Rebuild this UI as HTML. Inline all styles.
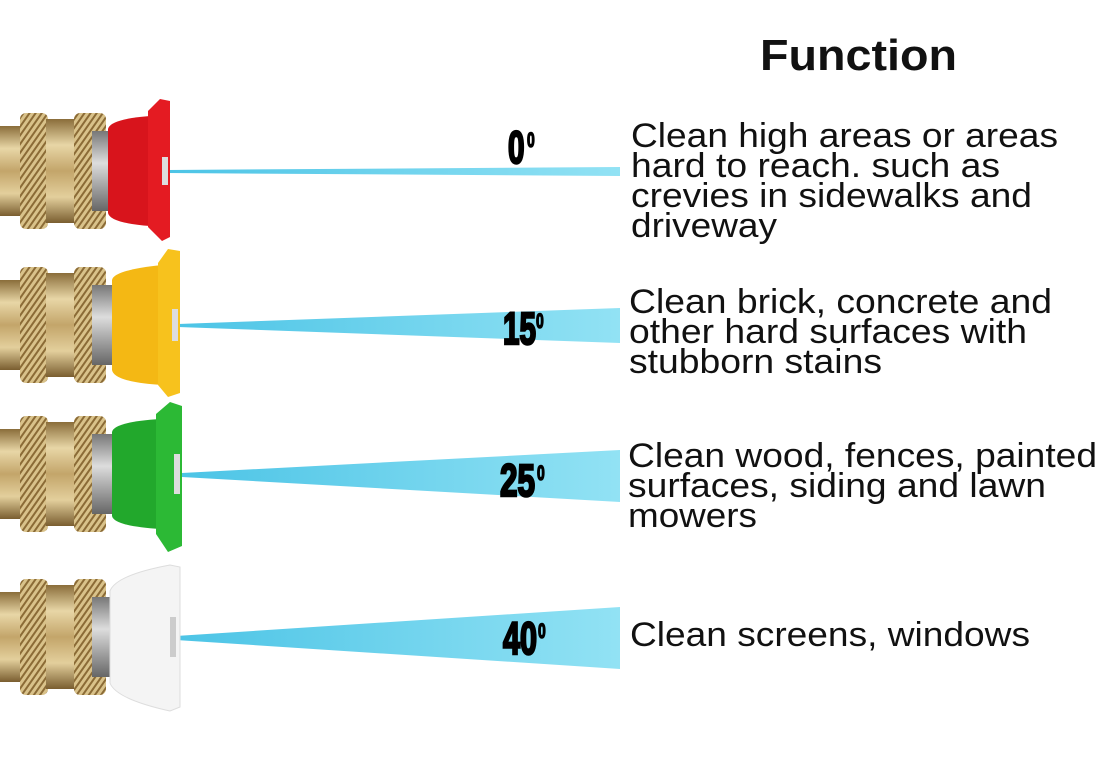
<!DOCTYPE html>
<html><head><meta charset="utf-8"><style>
html,body{margin:0;padding:0;background:#fff;}
svg{display:block}
.t{font-family:"Liberation Sans",sans-serif;font-size:34px;fill:#111;}
.d{font-family:"Liberation Sans",sans-serif;font-weight:bold;font-size:45px;fill:#000;stroke:#000;stroke-width:2.5px;}
.s{font-family:"Liberation Sans",sans-serif;font-weight:bold;font-size:21px;fill:#000;stroke:#000;stroke-width:1.5px;}
</style></head><body>
<svg width="1099" height="768" viewBox="0 0 1099 768" xmlns="http://www.w3.org/2000/svg">
<defs>
<linearGradient id="sp" x1="0" x2="1" y1="0" y2="0"><stop offset="0" stop-color="#4cc4e6"/><stop offset="1" stop-color="#92e2f4"/></linearGradient>
<linearGradient id="br" x1="0" x2="0" y1="0" y2="1"><stop offset="0" stop-color="#8a6d3a"/><stop offset="0.25" stop-color="#e8d6a6"/><stop offset="0.5" stop-color="#c3a56a"/><stop offset="0.75" stop-color="#e3cf9c"/><stop offset="1" stop-color="#7a5e30"/></linearGradient>
<linearGradient id="st" x1="0" x2="0" y1="0" y2="1"><stop offset="0" stop-color="#777"/><stop offset="0.4" stop-color="#ddd"/><stop offset="1" stop-color="#666"/></linearGradient>
<pattern id="kn" width="5" height="5" patternUnits="userSpaceOnUse" patternTransform="rotate(35)"><rect width="5" height="5" fill="#d9c28a"/><rect width="2" height="5" fill="#8b6b36"/></pattern>
<g id="brass">
<rect x="0" y="-45" width="30" height="90" fill="url(#br)"/>
<rect x="20" y="-58" width="28" height="116" rx="6" fill="url(#kn)"/>
<rect x="46" y="-52" width="30" height="104" fill="url(#br)"/>
<rect x="74" y="-58" width="32" height="116" rx="6" fill="url(#kn)"/>
<rect x="92" y="-40" width="22" height="80" fill="url(#st)"/>
</g>
</defs>

<text x="760" y="70" textLength="197" lengthAdjust="spacingAndGlyphs" style="font-family:'Liberation Sans',sans-serif;font-weight:bold;font-size:44px;fill:#111">Function</text>

<!-- sprays -->
<polygon points="168,170 620,167 620,176 168,173" fill="url(#sp)"/>
<polygon points="178,324 620,308 620,343 178,327" fill="url(#sp)"/>
<polygon points="182,473 620,450 620,502 182,477" fill="url(#sp)"/>
<polygon points="176,636 620,607 620,669 176,640" fill="url(#sp)"/>

<!-- row1 red -->
<g transform="translate(0,171)"><use href="#brass"/>
<path d="M108,-42 Q110,-52 150,-55 L150,55 Q110,52 108,42 Z" fill="#d8141c"/>
<path d="M148,-60 L160,-72 L170,-70 L170,66 L162,70 L148,56 Z" fill="#e41b22"/>
<rect x="162" y="-14" width="6" height="28" fill="#ddd"/></g>
<!-- row2 yellow -->
<g transform="translate(0,325)"><use href="#brass"/>
<path d="M112,-45 Q114,-55 162,-60 L162,60 Q114,57 112,45 Z" fill="#f4b814"/>
<path d="M158,-62 L168,-76 L180,-74 L180,68 L168,72 L158,60 Z" fill="#f7c21d"/>
<rect x="172" y="-16" width="6" height="32" fill="#ddd"/></g>
<!-- row3 green -->
<g transform="translate(0,474)"><use href="#brass"/>
<path d="M112,-42 Q114,-52 160,-55 L160,55 Q114,52 112,42 Z" fill="#22a82c"/>
<path d="M156,-60 L170,-72 L182,-68 L182,72 L168,78 L156,60 Z" fill="#2cb935"/>
<rect x="174" y="-20" width="6" height="40" fill="#ddd"/></g>
<!-- row4 white -->
<g transform="translate(0,637)"><use href="#brass"/>
<path d="M110,-46 Q116,-62 170,-72 L180,-70 L180,70 L170,74 Q116,62 110,46 Z" fill="#f4f4f4" stroke="#ddd"/>
<rect x="170" y="-20" width="6" height="40" fill="#ccc"/></g>

<!-- degree labels -->
<text class="d" transform="translate(508,163) scale(0.66,1)">0</text><text class="s" transform="translate(527,147) scale(0.66,1)">0</text>
<text class="d" transform="translate(503,344) scale(0.66,1)">15</text><text class="s" transform="translate(536,328) scale(0.66,1)">0</text>
<text class="d" transform="translate(500,496) scale(0.7,1)">25</text><text class="s" transform="translate(537,480) scale(0.66,1)">0</text>
<text class="d" transform="translate(503,654) scale(0.68,1)">40</text><text class="s" transform="translate(538,638) scale(0.66,1)">0</text>

<!-- texts -->
<text class="t" x="631" y="147" textLength="427" lengthAdjust="spacingAndGlyphs">Clean high areas or areas</text>
<text class="t" x="631" y="177" textLength="369" lengthAdjust="spacingAndGlyphs">hard to reach. such as</text>
<text class="t" x="631" y="207" textLength="401" lengthAdjust="spacingAndGlyphs">crevies in sidewalks and</text>
<text class="t" x="631" y="237" textLength="146" lengthAdjust="spacingAndGlyphs">driveway</text>
<text class="t" x="629" y="313" textLength="423" lengthAdjust="spacingAndGlyphs">Clean brick, concrete and</text>
<text class="t" x="629" y="343" textLength="398" lengthAdjust="spacingAndGlyphs">other hard surfaces with</text>
<text class="t" x="629" y="373" textLength="253" lengthAdjust="spacingAndGlyphs">stubborn stains</text>
<text class="t" x="628" y="467" textLength="469" lengthAdjust="spacingAndGlyphs">Clean wood, fences, painted</text>
<text class="t" x="628" y="497" textLength="418" lengthAdjust="spacingAndGlyphs">surfaces, siding and lawn</text>
<text class="t" x="628" y="527" textLength="129" lengthAdjust="spacingAndGlyphs">mowers</text>
<text class="t" x="630" y="646" textLength="400" lengthAdjust="spacingAndGlyphs">Clean screens, windows</text>
</svg>
</body></html>
